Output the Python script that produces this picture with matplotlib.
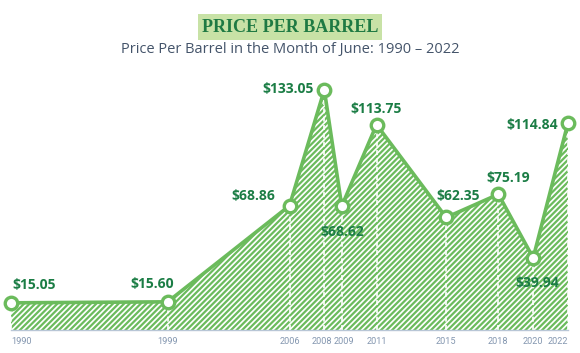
import matplotlib.pyplot as plt
from matplotlib.transforms import ScaledTranslation

plt.rcParams['font.family'] = ['Open Sans', 'DejaVu Sans']
plt.rcParams['hatch.linewidth'] = 1.6

# data
years = [1990, 1999, 2006, 2008, 2009, 2011, 2015, 2018, 2020, 2022]
prices = [15.05, 15.60, 68.86, 133.05, 68.62, 113.75, 62.35, 75.19, 39.94, 114.84]
labels = ['$15.05', '$15.60', '$68.86', '$133.05', '$68.62',
          '$113.75', '$62.35', '$75.19', '$39.94', '$114.84']
# label offsets in pixels from each point
offsets = [(23, 18), (-15, 18), (-36, 10), (-36, 1), (1, -26),
           (0, 16), (12, 21), (10, 16), (4, -25), (-36, -2)]

line_green = '#6bbb5c'
text_green = '#1b7d45'

fig = plt.figure(figsize=(5.8, 3.53), dpi=100)
ax = fig.add_axes([11 / 580, 0.0652, 557 / 580, 0.7158])

ax.fill_between(years, prices, 0, facecolor='none', edgecolor=line_green,
                hatch='//////', linewidth=0)
ax.vlines(years, 0, prices, colors='white', linestyles=(0, (3, 2)), linewidth=1.2)
ax.plot(years, prices, color=line_green, linewidth=2.6, marker='o',
        markersize=9, markerfacecolor='white', markeredgecolor=line_green,
        markeredgewidth=2.4, clip_on=False, zorder=5)

for x, y, lab, off in zip(years, prices, labels, offsets):
    ax.annotate(lab, (x, y), xytext=off, textcoords='offset pixels',
                ha='center', va='center', fontsize=10, fontweight='bold',
                color=text_green, zorder=6)

ax.set_xlim(1990, 2022)
ax.set_ylim(0, 140)
ax.set_xticks(years)
ax.set_xticklabels([str(y) for y in years], fontsize=6.6, color='#8497b0',
                   family='Roboto')
ax.tick_params(axis='x', length=0, pad=5)
ax.set_yticks([])
for s in ['left', 'right', 'top']:
    ax.spines[s].set_visible(False)
ax.spines['bottom'].set_color('#b8c6d6')
ax.spines['bottom'].set_linewidth(1)

# end labels sit inside the plot, 2008/2009 nudged apart
ticklabs = ax.get_xticklabels()
ticklabs[0].set_ha('left')
ticklabs[-1].set_ha('right')
for i, dx in [(3, -2.5), (4, 2.5)]:
    ticklabs[i].set_transform(ticklabs[i].get_transform() +
                              ScaledTranslation(dx / 100, 0, fig.dpi_scale_trans))

fig.text(0.5, 1 - 27 / 353, 'PRICE PER BARREL', ha='center', va='center',
         fontsize=13, fontweight='bold', color='#1f7a43', family='Liberation Serif',
         bbox=dict(facecolor='#c8e2a6', edgecolor='none', pad=3))
fig.text(0.5, 1 - 49 / 353, 'Price Per Barrel in the Month of June: 1990 \u2013 2022',
         ha='center', va='center', fontsize=10.5, color='#44546a')

fig.savefig('out.png', dpi=100)
